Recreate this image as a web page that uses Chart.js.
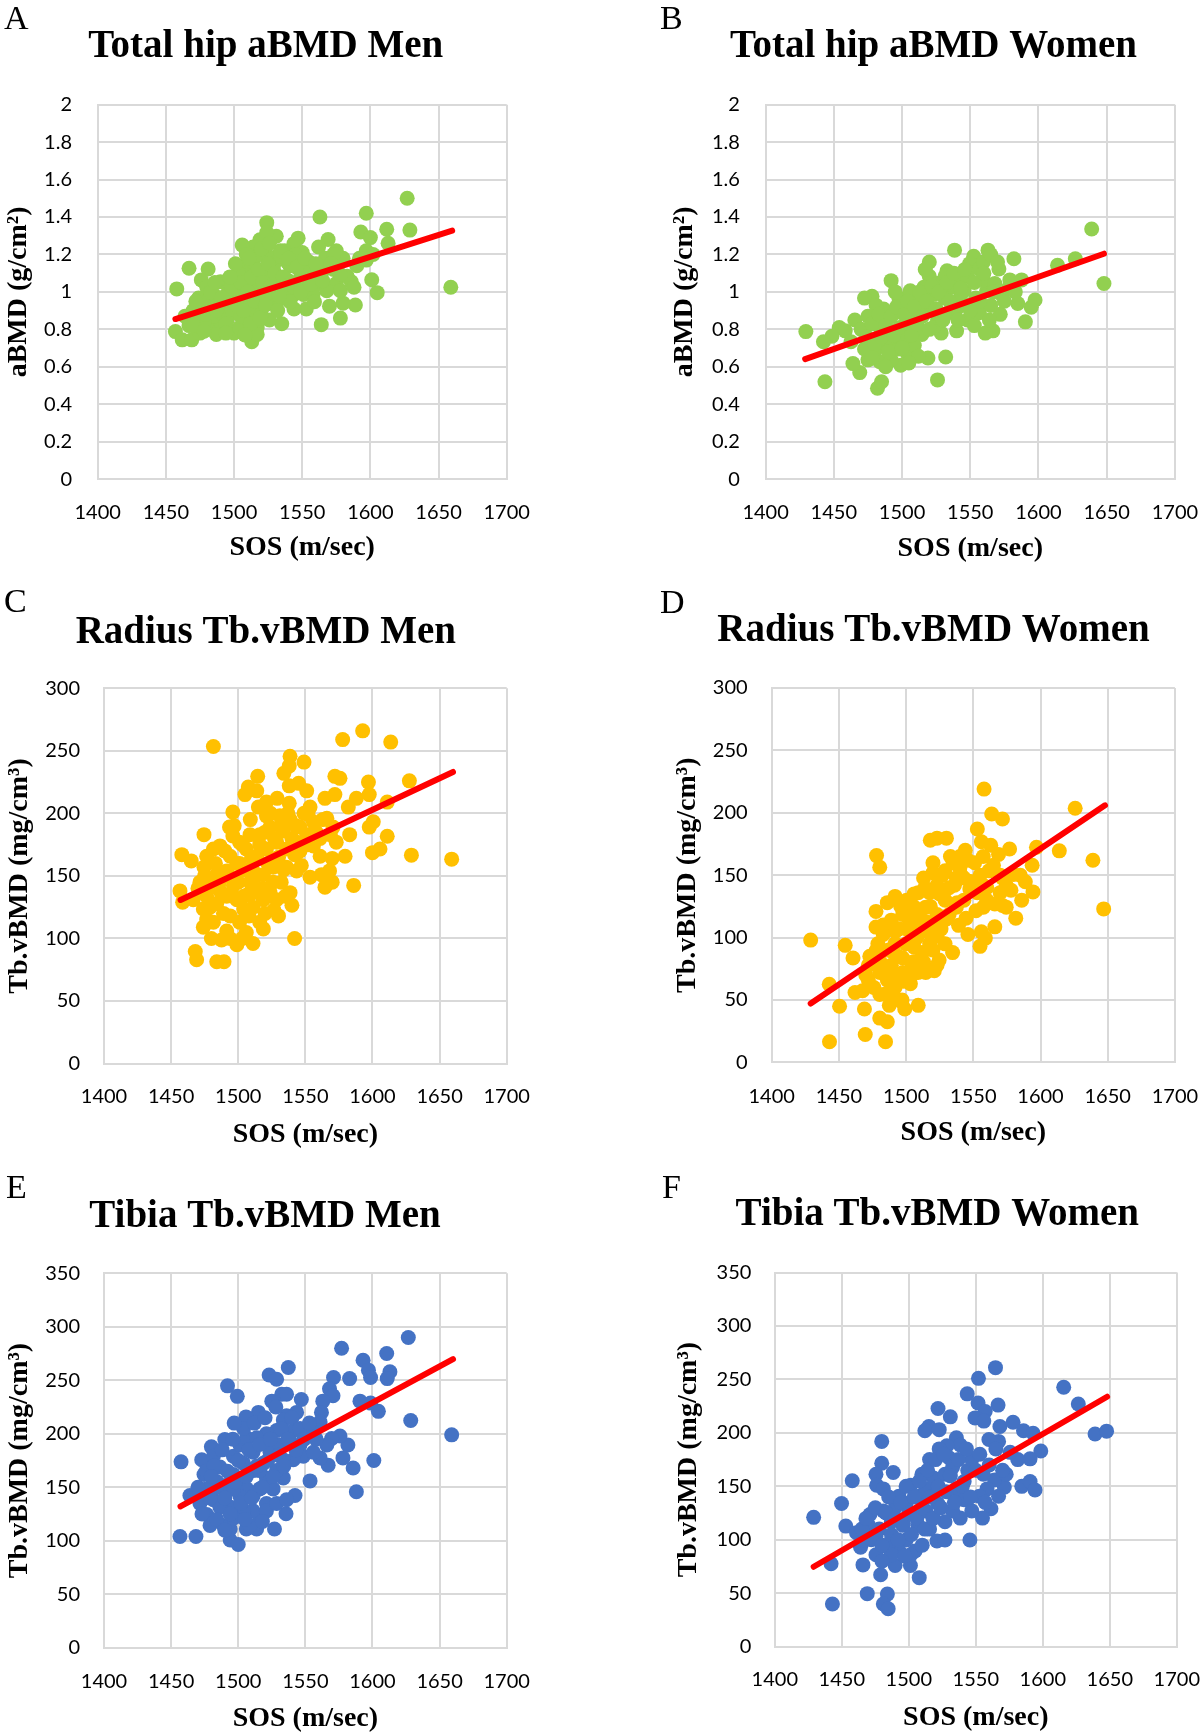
<!DOCTYPE html>
<html lang="en">
  <head>
    <meta charset="UTF-8" />
    <title>SOS vs BMD scatter panels</title>
    <style>
      * {
        margin: 0;
        padding: 0;
        box-sizing: border-box;
      }
      body {
        width: 1201px;
        height: 1733px;
        background: #fff;
        position: relative;
        overflow: hidden;
      }
      .panel {
        position: absolute;
      }
      .letter {
        position: absolute;
        font-family: "Liberation Serif", "Times New Roman", serif;
        font-size: 34px;
        line-height: 34px;
        color: #000;
      }
    </style>
  </head>
  <body>
    <div class="panel" id="pA"><canvas id="cA"></canvas></div>
    <div class="panel" id="pB"><canvas id="cB"></canvas></div>
    <div class="panel" id="pC"><canvas id="cC"></canvas></div>
    <div class="panel" id="pD"><canvas id="cD"></canvas></div>
    <div class="panel" id="pE"><canvas id="cE"></canvas></div>
    <div class="panel" id="pF"><canvas id="cF"></canvas></div>

    <div class="letter" style="left: 4px; top: 1px">A</div>
    <div class="letter" style="left: 660px; top: 1px">B</div>
    <div class="letter" style="left: 4px; top: 584px">C</div>
    <div class="letter" style="left: 660px; top: 585px">D</div>
    <div class="letter" style="left: 6px; top: 1170px">E</div>
    <div class="letter" style="left: 662px; top: 1170px">F</div>

    <script src="https://cdn.jsdelivr.net/npm/chart.js"></script>
    <script>
      // ---- data: [SOS (m/sec), BMD] ----
      const hipMen = [
        [1627,1.50],[1629,1.33],[1563,1.40],[1597,1.42],[1612,1.335],[1593,1.32],[1600,1.29],[1613,1.26],
        [1659,1.025],[1605,0.996],[1601,1.065],[1589,0.93],[1578,0.86],[1580,0.94],[1570,0.924],[1564,0.825],
        [1586,1.054],[1597,1.17],[1597,1.22],[1569,1.28],[1562,1.24],[1575,1.22],[1580,1.18],[1567,1.18],
        [1573,1.12],[1563,1.045],[1575,1.045],[1558,0.986],[1553,0.909],[1544,0.909],[1535,0.83],[1524,1.37],
        [1531,1.297],[1547,1.287],[1544,1.258],[1537,1.22],[1550,1.21],[1555,1.16],[1539,1.16],[1519,1.278],
        [1514,1.24],[1506,1.25],[1506,1.14],[1524,1.2],[1529,1.14],[1522,1.083],[1539,1.064],[1548,1.064],
        [1536,1.006],[1544,0.986],[1531,0.938],[1526,0.85],[1517,0.81],[1513,0.734],[1517,0.773],[1500,0.78],
        [1489,0.82],[1481,1.122],[1467,1.126],[1476,1.064],[1490,1.054],[1500,1.054],[1485,0.986],[1474,0.967],
        [1458,1.016],[1457,0.788],[1462,0.744],[1469,0.744],[1475,0.78],[1467,0.82],[1480,0.81],[1485,0.87],
        [1475,0.89],[1495,0.947],[1504,0.986],[1509,0.928],[1500,0.89],[1514,0.89],[1507,0.85],[1495,0.85],
        [1490,0.909],[1511,1.045],[1512,1.113],[1514,1.16],[1529,1.08],[1517,1.006],[1524,0.947],[1522,1.025],
        [1531,1.045],[1558,1.12],[1573,1.2],[1583,1.083],[1548,1.12],[1541,1.14],[1524,1.317],[1519,1.2],
        [1509,1.2],[1500,0.947],[1480,0.947],[1464,0.87],[1473,0.85],[1487,0.773],[1504,0.81],[1497,0.986],
        [1502,1.016],[1480,1.025],[1495,1.054],[1508,1.083],[1539,1.025],[1544,1.025],[1541,0.947],[1551,0.986],
        [1556,1.083],[1563,1.1],[1568,1.006],[1559,0.947],[1578,1.093],[1578,1.006],[1588,1.025],[1590,1.14],
        [1592,1.18],[1602,1.2],[1470,0.9],[1478,0.84],[1484,0.93],[1492,0.88],[1498,0.91],[1505,0.87],
        [1510,0.96],[1516,0.92],[1520,0.97],[1527,1.0],[1533,0.98],[1503,1.1],[1496,1.01],[1488,0.95],
        [1512,0.83],[1520,0.88],[1528,1.18],[1534,1.19],[1547,1.17],[1553,1.1],[1566,1.12],[1545,1.2],
        [1472,0.95],[1479,0.88],[1483,1.0],[1487,0.9],[1491,0.97],[1494,0.83],[1498,1.03],[1502,0.93],
        [1505,1.05],[1507,0.9],[1510,1.0],[1513,1.08],[1515,0.95],[1518,1.12],[1519,0.86],[1521,1.05],
        [1523,0.93],[1525,1.15],[1527,1.03],[1530,1.1],[1532,0.9],[1534,1.22],[1536,1.08],[1540,1.18],
        [1542,1.05],[1546,1.13],[1549,1.0],[1552,1.18],[1556,1.04],[1560,1.15],[1565,1.06],[1571,1.15],
        [1501,1.15],[1497,1.08],[1486,1.05],[1470,0.82],[1478,0.79],[1494,0.78],[1508,0.77],[1520,1.23],
        [1526,1.26],[1511,1.18]
      ];
      const hipWomen = [
        [1429.5,0.788],[1639,1.336],[1648,1.045],[1614,1.142],[1627,1.177],[1443.5,0.52],[1482,0.485],[1485,0.52],
        [1526,0.53],[1532,0.652],[1519,0.647],[1499,0.608],[1469,0.569],[1464,0.617],[1492,1.06],[1538.5,1.223],
        [1563,1.223],[1582,1.177],[1571,1.122],[1552.5,1.19],[1549.6,1.151],[1556.6,1.122],[1533,1.113],[1520,1.083],
        [1542.7,1.064],[1579,1.064],[1587.6,1.064],[1597.5,0.957],[1594.7,0.918],[1584.8,0.938],[1590.4,0.84],[1572,0.88],
        [1566.6,0.792],[1561,0.78],[1540,0.792],[1528.7,0.78],[1510.4,0.85],[1478,0.977],[1472.5,0.967],[1465.4,0.85],
        [1454,0.81],[1448.6,0.763],[1442.4,0.734],[1458.4,0.792],[1462.6,0.734],[1475,0.734],[1481,0.695],[1489,0.714],
        [1483.7,0.627],[1492,0.637],[1503.4,0.676],[1509,0.714],[1500.6,0.753],[1492,0.792],[1483.7,0.81],[1475,0.87],
        [1486.5,0.909],[1497.7,0.967],[1495,0.889],[1503.4,0.85],[1512,0.947],[1506,1.006],[1516,1.025],[1523,0.986],
        [1526,1.045],[1517.4,0.909],[1526,0.85],[1534,0.889],[1531.5,0.967],[1537,1.025],[1545.5,1.006],[1548,0.928],
        [1540,0.909],[1554,0.967],[1556.7,0.889],[1562,1.006],[1559.6,1.064],[1568,1.045],[1565,0.928],[1573,0.986],
        [1548,0.85],[1514.6,0.773],[1523,0.81],[1506,0.81],[1492,0.734],[1497.7,0.695],[1512,0.656],[1475,0.637],
        [1472.5,0.695],[1486.5,0.85],[1481,0.928],[1520,1.16],[1531.5,1.083],[1548,1.083],[1559.6,1.16],[1565,1.2],
        [1528.7,0.986],[1542.7,0.967],[1509,0.889],[1500.6,0.909],
        [1470,0.8],[1474,0.76],[1478,0.83],[1480,0.72],[1483,0.88],[1485,0.76],[1488,0.82],[1490,0.68],
        [1492,0.87],[1494,0.77],[1496,0.92],[1498,0.81],[1500,0.7],[1502,0.88],[1504,0.95],[1507,0.77],
        [1509,0.92],[1511,0.83],[1513,1.0],[1515,0.87],[1518,0.95],[1520,0.8],[1522,1.03],[1525,0.91],
        [1527,1.0],[1530,0.85],[1533,1.05],[1535,0.95],[1538,1.1],[1541,0.85],[1543,1.02],[1546,1.12],
        [1550,0.9],[1553,1.05],[1557,0.95],[1560,1.1],[1564,0.85],[1567,1.0],[1570,1.16],[1575,0.95],
        [1578,1.02],[1583,1.0],[1488,0.6],[1505,0.62],[1478,0.65],[1495,1.0],[1517,1.12],[1553,0.82]
      ];
      const radiusMen = [
        [1481.5,253.5],[1592.7,266],[1577.8,259],[1613.6,257],[1627.5,226],[1659,163.4],[1629,166.6],[1611,181.7],
        [1605.6,171.5],[1600,168.6],[1600.6,193.3],[1597.6,189],[1597.6,215],[1597,225],[1588,212],[1611,209],
        [1582,205],[1583,183],[1579.6,165.7],[1586,142.4],[1570,145],[1564.6,141],[1562,151],[1568,154],
        [1570,164],[1572,229.6],[1575.8,228],[1564.6,212],[1572,215],[1566,196],[1553.5,205],[1552,199],
        [1556,193],[1553.5,149],[1547,158.4],[1542,167],[1549,241],[1538.6,245.6],[1538,238],[1534,232],
        [1538,222],[1545,224],[1551,218],[1538,208],[1521,209],[1529,212],[1514.5,229.6],[1507.5,221],
        [1513.8,218],[1505,215],[1496,201],[1493.5,189],[1496,182],[1486.4,174],[1481.5,171.5],[1474.5,183],
        [1476.5,165.7],[1474.5,157],[1465,162],[1458,167],[1456.6,138],[1458.6,129],[1466.5,131],[1474,123.5],
        [1476.5,115],[1481.5,113],[1474,109],[1468,89.5],[1469,83],[1484,81.4],[1489.4,81.4],[1487.6,98.8],
        [1493.9,100],[1499,95],[1491.4,106],[1506,104.7],[1501,113],[1516,113],[1511,125],[1504,123.5],
        [1526.6,122.7],[1540,126.5],[1538.6,136.6],[1535,133.7],[1532,145],[1523.7,136.6],[1542,100],[1491.4,133.7],
        [1486.4,138],[1496.4,142.4],[1508.8,145],[1518.7,151],[1526,157],[1511,154],[1501,160],[1491.4,154],
        [1484,151],[1494,165.7],[1506,171.5],[1513.8,165.7],[1521,171.5],[1528.6,177],[1536,171.5],[1543.5,177],
        [1533.6,186],[1523.7,189],[1516,183],[1508.8,183],[1501,177],[1521,198],[1531,198],[1538.6,195],
        [1546,189],[1551,183],[1556,174],[1561,180],[1568.6,183],[1573,177],[1570.6,189],[1561,165.7],
        [1543.5,154],[1536,157],[1528.6,131],[1518.7,131],[1511,136.6],[1504,133.7],[1499,131],[1484,128],
        [1481.5,142.4],[1471.5,145],[1476.5,133.7],[1518.7,107.6],[1511,96],
        [1470,140],[1475,150],[1479,125],[1483,160],[1486,145],[1489,120],[1490,170],[1493,150],
        [1495,135],[1497,190],[1499,160],[1500,145],[1503,175],[1505,155],[1507,135],[1509,195],
        [1510,165],[1513,150],[1515,205],[1516,175],[1518,140],[1520,185],[1522,160],[1524,200],
        [1526,145],[1527,180],[1530,165],[1532,190],[1534,155],[1537,200],[1540,180],[1543,190],
        [1546,170],[1549,200],[1552,175],[1558,185],[1563,195],[1494,118],[1508,118],[1520,120],
        [1530,118],[1480,100],[1503,100]
      ];
      const radiusWomen = [
        [1429,98],[1558,219],[1563.7,199],[1571.7,195],[1625.8,203.6],[1639,162],[1647,123],[1614,169.5],
        [1597,172.4],[1593.8,158],[1594.4,136.6],[1588.7,144.8],[1586,130],[1581.6,115.6],[1577,171],[1568.8,166.6],
        [1566,108.6],[1556,104.6],[1555,93],[1559,99.6],[1553,187],[1556,176.8],[1563,174],[1553,136],
        [1557.5,124.4],[1552,121.5],[1546,102.5],[1539,109.8],[1530,179.7],[1523,179.7],[1518,178],[1513,147.7],
        [1520,152],[1533,165],[1540,156],[1543,147.7],[1561.7,153.5],[1571.7,147.7],[1570,136],[1571.7,125.8],
        [1566,127],[1547.4,139],[1536,142],[1529,130],[1523,118.5],[1515,112.7],[1526,107],[1534.6,88],
        [1524.6,82],[1521,73.4],[1509,72],[1513,80.7],[1504.7,70.5],[1509,45.7],[1499,42.8],[1496.6,48.6],
        [1487.5,45.7],[1486,32.6],[1480.4,35.5],[1484.7,16.6],[1443,16.6],[1469.6,22.4],[1469,42.8],[1450.5,45],
        [1442.8,62.6],[1462,56],[1467.6,57.4],[1454.7,93.8],[1460.5,83.6],[1477.6,121],[1477.6,108.4],[1478,165.7],
        [1480.4,156.4],[1486,128],[1491.8,133],[1497.5,118.5],[1489,114],[1483,102.5],[1491.8,95.3],[1500.4,107],
        [1509,104],[1506,92.3],[1497.5,83.6],[1489,77.8],[1480.4,72],[1471.9,77.8],[1486,66],[1480.4,54.5],
        [1491.8,60],[1503.2,63],[1477.6,89.4],[1471.9,66],[1517.5,95],[1523,101],[1529,95],[1514.6,124.4],
        [1506,124.4],[1500.4,130],[1509,136],[1517.5,136],[1523,142],[1529,153.5],[1537.4,147.7],[1543,130],
        [1537.4,124.4],[1544.6,115.6],[1532,118.5],[1509,112.7],[1494.7,107],[1489,89.4],[1497.5,72],[1514.6,72],
        [1506,80.7],[1523,77.8],[1557.4,165],[1546,162],[1540,165],[1574.5,142],[1580,150.6],[1557.4,142],
        [1560,130],[1574.5,124.4],
        [1470,70],[1473,85],[1476,60],[1479,95],[1481,80],[1483,110],[1485,55],[1487,90],
        [1490,70],[1492,105],[1494,85],[1496,125],[1498,65],[1500,95],[1502,115],[1504,80],
        [1506,135],[1508,100],[1510,120],[1512,88],[1514,140],[1516,105],[1518,125],[1520,160],
        [1522,110],[1525,135],[1527,150],[1530,115],[1532,140],[1535,160],[1538,128],[1541,150],
        [1544,170],[1548,145],[1551,160],[1555,150],[1560,140],[1565,158],[1570,150],[1578,138],
        [1585,150],[1520,90],[1490,55],[1497,50]
      ];
      const tibiaMen = [
        [1626.7,290],[1577,280],[1610.6,275],[1593,268.7],[1597,259.5],[1613,258],[1598.6,252.6],[1611,251.6],
        [1583,251.6],[1571,252.6],[1628.5,212.4],[1659,199],[1601,175],[1588,145.8],[1585.6,168],[1578,177.5],
        [1581.7,189.5],[1575.8,198],[1569.6,195.6],[1567,170.7],[1561,177.5],[1553.5,156],[1590.7,230.5],[1598.6,228.7],
        [1604.4,221],[1568,242],[1570.6,235.6],[1563,230.5],[1562,220],[1561,211],[1555,202.5],[1547,232],
        [1543.5,220],[1536,216.8],[1537.3,261.9],[1523,255],[1528.6,251],[1532.4,237],[1536,237],[1525,230.5],
        [1533.6,213],[1528.6,203],[1521,200],[1515,220],[1505.8,215.8],[1492,244.8],[1499.3,235],[1490,194.6],
        [1480,187.8],[1472.8,175.8],[1457.4,173.8],[1474.5,162],[1464,142.4],[1456.6,104],[1468.5,104],[1479,114.4],
        [1476.5,124.6],[1494,100.7],[1500,96.6],[1494,111],[1506,111],[1513.7,111],[1527,111],[1535.6,125.3],
        [1542.3,142.4],[1533.6,158.8],[1526,148.5],[1521,134.9],[1516,121.2],[1511,128],[1504,128],[1494.4,131.4],
        [1486.4,131.4],[1481.5,138.3],[1471.5,134.9],[1476.5,148.5],[1484,155.3],[1491.4,152],[1496.4,162],[1486.4,169],
        [1481.5,179],[1496.4,179],[1501.3,189.5],[1506.3,196.3],[1513.8,196.3],[1511,182.7],[1504,172.4],[1511,165.6],
        [1518.7,172.4],[1523.7,182.7],[1531,189.5],[1538.6,193],[1541,203],[1546,189.5],[1548.5,179],[1541,175.8],
        [1533.6,175.8],[1528.6,165.6],[1521,158.8],[1516,148.5],[1506.3,148.5],[1501.3,141.7],[1496.4,148.5],[1511,141.7],
        [1521,128],[1528.6,134.9],[1536,138.3],[1496.4,121.2],[1489,114.4],[1508.8,114.4],[1516,165.6],[1551,199.7],
        [1556,182.7],[1566,189.5],
        [1470,150],[1473,125],[1476,165],[1479,140],[1482,170],[1484,120],[1486,150],[1488,185],
        [1490,140],[1492,165],[1494,125],[1496,195],[1498,155],[1500,175],[1502,135],[1504,205],
        [1506,160],[1508,185],[1510,140],[1512,210],[1514,170],[1516,190],[1518,150],[1520,215],
        [1522,175],[1524,195],[1526,160],[1528,225],[1530,180],[1532,205],[1534,170],[1537,195],
        [1540,215],[1543,185],[1546,205],[1549,195],[1553,210],[1558,195],[1490,110],[1505,120],
        [1518,118],[1480,160],[1497,210]
      ];
      const tibiaWomen = [
        [1429,121],[1564.7,261],[1552,251],[1615.6,242.7],[1626.5,227],[1639,199],[1647.6,201.6],[1543.6,236.5],
        [1566.6,226],[1551.7,228],[1557,220],[1549.4,214],[1556,211],[1521.8,222.8],[1531,215],[1515,206],
        [1512,202],[1522.7,203],[1568,206],[1577.8,210],[1585.6,202],[1592.8,199.6],[1598.5,183],[1590.5,175.7],
        [1581.3,175],[1584.3,150],[1590.5,154.5],[1594.2,146.6],[1571.3,149.3],[1564,156],[1561.3,129],[1555,120.3],
        [1545.6,99.8],[1567,192],[1559.8,193.8],[1535.5,195.5],[1538.4,188.6],[1528.4,188],[1530,176.7],[1522.7,185],
        [1515.5,175],[1479.8,192],[1479.8,171.6],[1475.5,161.3],[1488.4,163],[1476,151],[1481,147.6],[1457.8,155.2],
        [1449.8,134],[1453,112.8],[1442,77.6],[1443,40],[1469,49.6],[1465.8,76.5],[1479,67.3],[1484,49.2],
        [1481,40],[1484.6,35.5],[1489.8,75.9],[1501.2,75.9],[1507.8,64.6],[1504.7,89.5],[1521,98.8],[1527,99.8],
        [1507,113.5],[1495.5,113.5],[1487,99.8],[1475.5,86],[1464,93],[1461,106.6],[1470,113.5],[1471,123.7],
        [1481,127],[1490,130.5],[1498,134],[1507,140.8],[1512.7,147.6],[1518.4,157.9],[1527,161.3],[1532.7,168],
        [1544,164.7],[1541.3,154.5],[1535.5,147.6],[1541.3,137.4],[1547,127],[1538.4,120.3],[1532.7,127],[1527,116.9],
        [1518.4,120.3],[1512.7,127],[1504,123.7],[1515.5,110],[1498,99.8],[1492.7,89.5],[1484,93],[1475.5,103],
        [1487,116.9],[1492.7,140.8],[1501.4,151],[1509.8,161.3],[1521.6,147.6],[1521.6,134],[1555.6,161.3],[1558.4,147.6],
        [1552.7,140.8],[1567,140.8],[1572.7,161.3],[1575.6,181.8],[1547,175],[1487,86],[1501.4,86],[1467,99.8],
        [1465,110],[1468,120],[1472,100],[1475,130],[1478,110],[1480,95],[1483,125],[1485,140],
        [1487,105],[1490,120],[1492,100],[1494,135],[1496,115],[1498,150],[1500,125],[1502,105],
        [1504,140],[1506,120],[1508,155],[1510,130],[1512,110],[1514,165],[1516,140],[1518,120],
        [1520,175],[1522,150],[1524,130],[1526,180],[1528,145],[1531,160],[1534,135],[1537,175],
        [1540,150],[1543,185],[1546,140],[1550,165],[1553,180],[1557,135],[1560,170],[1565,185],
        [1570,165],[1497,85],[1510,95],[1480,80]
      ];

      // trend line end points [SOS, BMD]
      const hipMenTrend = [[1457, 0.855], [1660, 1.327]];
      const hipWomenTrend = [[1429, 0.641], [1648, 1.204]];
      const radiusMenTrend = [[1457, 130.8], [1660, 233.1]];
      const radiusWomenTrend = [[1429, 47.2], [1648, 206]];
      const tibiaMenTrend = [[1457, 132.1], [1660, 269.7]];
      const tibiaWomenTrend = [[1429, 74.8], [1648, 233.8]];

      const sosRange = [1400, 1700, 50];

      const GREEN = "#92D050";
      const GOLD = "#FFC000";
      const BLUE = "#4472C4";
      const RED = "#FF0000";
      const GRID = "#D9D9D9";
      const SERIF = "'Liberation Serif', 'Times New Roman', serif";
      const TITLE_SIZE = 39, AXIS_SIZE = 28, TICK_SIZE = 20;

      const panels = [
        { id: "A", title: "Total hip aBMD Men", yLabel: "aBMD (g/cm²)", pts: hipMen, trend: hipMenTrend,
          color: GREEN, yMax: 2, yStep: 0.2,
          box: [0, 0, 600, 575], plot: [97.7, 104.7, 506.7, 479.1], titleAt: [265.7, 47.3],
          yTitleX: 18.3, yTickRight: 72, xTickY: 512.5, xTitleY: 547.8 },
        { id: "B", title: "Total hip aBMD Women", yLabel: "aBMD (g/cm²)", pts: hipWomen, trend: hipWomenTrend,
          color: GREEN, yMax: 2, yStep: 0.2,
          box: [600, 0, 601, 575], plot: [765.6, 104.7, 1174.9, 479.1], titleAt: [933.5, 47.3],
          yTitleX: 685.1, yTickRight: 739.9, xTickY: 512.5, xTitleY: 548.9 },
        { id: "C", title: "Radius Tb.vBMD Men", yLabel: "Tb.vBMD (mg/cm³)", pts: radiusMen, trend: radiusMenTrend,
          color: GOLD, yMax: 300, yStep: 50,
          box: [0, 575, 600, 580], plot: [104, 688.3, 506.7, 1063.5], titleAt: [265.8, 633.1],
          yTitleX: 20, yTickRight: 80, xTickY: 1096.2, xTitleY: 1134.3 },
        { id: "D", title: "Radius Tb.vBMD Women", yLabel: "Tb.vBMD (mg/cm³)", pts: radiusWomen, trend: radiusWomenTrend,
          color: GOLD, yMax: 300, yStep: 50,
          box: [600, 575, 601, 580], plot: [771.7, 688, 1174.9, 1062.4], titleAt: [933.5, 631.4],
          yTitleX: 688.2, yTickRight: 747.6, xTickY: 1096.2, xTitleY: 1132.5 },
        { id: "E", title: "Tibia Tb.vBMD Men", yLabel: "Tb.vBMD (mg/cm³)", pts: tibiaMen, trend: tibiaMenTrend,
          color: BLUE, yMax: 350, yStep: 50,
          box: [0, 1155, 600, 578], plot: [104, 1273.3, 506.7, 1647.8], titleAt: [265, 1216.6],
          yTitleX: 20, yTickRight: 80, xTickY: 1681.8, xTitleY: 1719.1 },
        { id: "F", title: "Tibia Tb.vBMD Women", yLabel: "Tb.vBMD (mg/cm³)", pts: tibiaWomen, trend: tibiaWomenTrend,
          color: BLUE, yMax: 350, yStep: 50,
          box: [600, 1155, 601, 578], plot: [774.8, 1272.5, 1176.8, 1646.7], titleAt: [937.3, 1215.4],
          yTitleX: 688.9, yTickRight: 751.4, xTickY: 1680, xTitleY: 1717.3 },
      ];

      const toXY = (arr) => arr.map(([x, y]) => ({ x, y }));
      const fmt = (v) => String(Math.round(v * 100) / 100);

      function makeChart(p) {
        const [bx, by, bw, bh] = p.box;
        const wrap = document.getElementById("p" + p.id);
        wrap.style.left = bx + "px";
        wrap.style.top = by + "px";
        wrap.style.width = bw + "px";
        wrap.style.height = bh + "px";
        const canvas = document.getElementById("c" + p.id);
        canvas.width = bw;
        canvas.height = bh;

        // page coords -> canvas coords
        const pl = p.plot[0] - bx, pt = p.plot[1] - by, pr = p.plot[2] - bx, pb = p.plot[3] - by;
        const lhTitle = TITLE_SIZE * 1.2, lhAxis = AXIS_SIZE * 1.2, lhTick = TICK_SIZE * 1.2;

        const padL = 2 * (p.titleAt[0] - bx) - pr;
        const padR = bw - pr;
        const yW = pl - padL;
        const tTop = p.titleAt[1] - by - lhTitle / 2;
        const tBottom = pt - lhTitle - tTop;
        const xTitleBottom = -8;
        const xH = p.xTitleY - by + lhAxis / 2 + xTitleBottom - pb;
        const padB = bh - pb - xH;

        return new Chart(canvas, {
          type: "scatter",
          data: {
            datasets: [
              {
                type: "line",
                data: toXY(p.trend),
                borderColor: RED,
                borderWidth: 6,
                borderCapStyle: "round",
                pointRadius: 0,
                fill: false,
                order: 0,
              },
              {
                data: toXY(p.pts),
                backgroundColor: p.color,
                borderWidth: 0,
                pointRadius: 7.5,
                order: 1,
              },
            ],
          },
          options: {
            responsive: false,
            animation: false,
            events: [],
            layout: { padding: { left: padL, right: padR, top: 0, bottom: padB } },
            plugins: {
              legend: { display: false },
              tooltip: { enabled: false },
              title: {
                display: true,
                text: p.title,
                color: "#000",
                font: { family: SERIF, size: TITLE_SIZE, weight: "bold", lineHeight: 1.2 },
                padding: { top: tTop, bottom: tBottom },
              },
            },
            scales: {
              x: {
                type: "linear",
                min: sosRange[0],
                max: sosRange[1],
                ticks: {
                  stepSize: sosRange[2],
                  color: "#000",
                  padding: p.xTickY - by - pb - lhTick / 2,
                  font: { family: "Lato, sans-serif", size: TICK_SIZE },
                  callback: (v) => String(v),
                },
                grid: { color: GRID, lineWidth: 2, drawTicks: false },
                border: { color: GRID, width: 2 },
                title: {
                  display: true,
                  text: "SOS (m/sec)",
                  color: "#000",
                  font: { family: SERIF, size: AXIS_SIZE, weight: "bold" },
                  padding: { top: 0, bottom: xTitleBottom },
                },
                afterFit: (sc) => {
                  sc.height = xH;
                  sc.paddingLeft = 0;
                  sc.paddingRight = 0;
                },
              },
              y: {
                min: 0,
                max: p.yMax,
                ticks: {
                  stepSize: p.yStep,
                  color: "#000",
                  padding: p.plot[0] - p.yTickRight,
                  font: { family: "Lato, sans-serif", size: TICK_SIZE },
                  callback: fmt,
                },
                grid: { color: GRID, lineWidth: 2, drawTicks: false },
                border: { color: GRID, width: 2 },
                title: {
                  display: true,
                  text: p.yLabel,
                  color: "#000",
                  font: { family: SERIF, size: AXIS_SIZE, weight: "bold" },
                  padding: { top: p.yTitleX - bx - padL - lhAxis / 2, bottom: 0 },
                },
                afterFit: (sc) => {
                  sc.width = yW;
                  sc.paddingTop = 0;
                  sc.paddingBottom = 0;
                },
              },
            },
          },
        });
      }

      panels.forEach(makeChart);
    </script>
  </body>
</html>
